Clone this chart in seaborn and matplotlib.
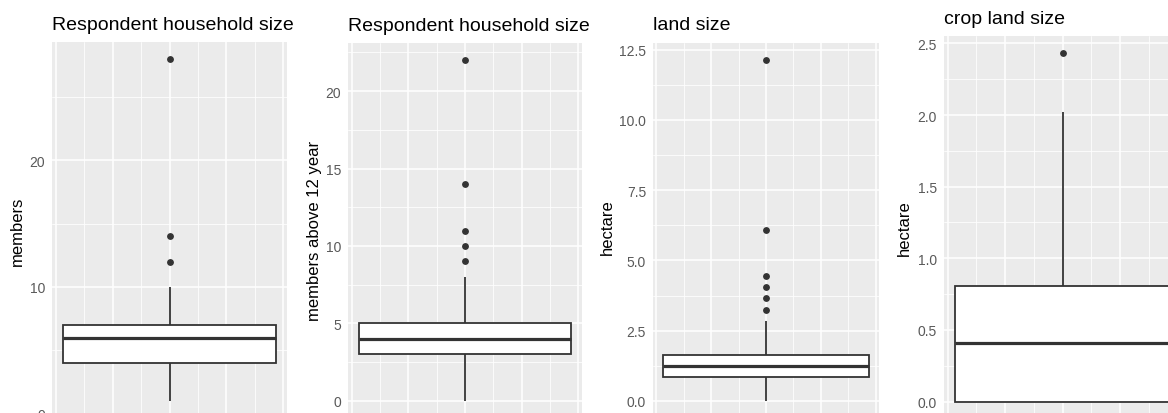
import numpy as np
import seaborn as sns
import matplotlib.pyplot as plt
from matplotlib.ticker import MultipleLocator, FormatStrFormatter

# values (quartiles, whisker ends, outliers)
members = [1, 2, 3, 4, 4, 4, 5, 5, 6, 6, 6, 6, 7, 7, 7, 7, 8, 10, 12, 14, 28]
members_12 = [0, 1, 2, 2, 3, 3, 3, 3, 4, 4, 4, 4, 4, 4, 5, 5, 5, 5, 5,
              8, 9, 10, 11, 14, 22]
land = [0.0, 0.3, 0.5, 0.6, 0.7, 0.8, 0.8, 0.85, 0.9, 1.0, 1.0, 1.1, 1.2, 1.2,
        1.25, 1.3, 1.4, 1.5, 1.5, 1.6, 1.6, 1.65, 2.84, 3.25, 3.65, 4.05,
        4.45, 6.1, 12.15]
crop_land = [0, 0, 0, 0, 0.1, 0.3, 0.41, 0.5, 0.7, 0.81, 1.5, 2.02, 2.43]

titles = ['Respondent household size', 'Respondent household size',
          'land size', 'crop land size']
ylabels = ['members', 'members above 12 year', 'hectare', 'hectare']
ytick_step = [10, 5, 2.5, 0.5]
ytick_fmt = ['%d', '%d', '%.1f', '%.1f']

# panel rectangles in pixels: left, right, top, bottom (bottom is cropped off)
W, H = 1168, 414
rects = [(52, 287, 43, 419), (348, 582, 44, 419),
         (653, 879, 43.5, 419), (944, 1181, 37, 420)]
ylab_x = [17, 315, 607, 904]
ylab_y = [231, 231, 227, 228]

sns.set_theme(style='darkgrid')
plt.rcParams['font.family'] = ['Liberation Sans', 'DejaVu Sans']

fig = plt.figure(figsize=(W / 100, H / 100), dpi=100)
fig.patch.set_facecolor('white')

for data, title, ylab, step, fmt, (l, r, t, b), lx, ly in zip(
        [members, members_12, land, crop_land], titles, ylabels, ytick_step,
        ytick_fmt, rects, ylab_x, ylab_y):
    ax = fig.add_axes([l / W, 1 - b / H, (r - l) / W, (b - t) / H])
    ax.set_facecolor('#EBEBEB')
    sns.boxplot(y=data, ax=ax, width=0.75, color='white', linecolor='#333333',
                linewidth=1.3, showcaps=False,
                medianprops=dict(linewidth=2.3, color='#333333'),
                flierprops=dict(marker='o', markersize=3.9,
                                markerfacecolor='#333333',
                                markeredgecolor='#333333'))
    lo, hi = min(data), max(data)
    pad = (hi - lo) * 0.05
    ax.set_ylim(lo - pad, hi + pad)
    ax.set_xlim(-0.4125, 0.4125)

    ax.xaxis.set_major_locator(MultipleLocator(0.2))
    ax.xaxis.set_minor_locator(MultipleLocator(0.1))
    ax.yaxis.set_major_locator(MultipleLocator(step))
    ax.yaxis.set_minor_locator(MultipleLocator(step / 2))
    ax.yaxis.set_major_formatter(FormatStrFormatter(fmt))
    ax.set_axisbelow(True)
    ax.grid(which='major', color='white', linewidth=1.1)
    ax.grid(which='minor', color='white', linewidth=0.55)
    ax.tick_params(axis='x', which='both', length=0, labelbottom=False)
    ax.tick_params(axis='y', which='both', length=0, pad=5,
                   labelsize=10, labelcolor='#595959')
    for s in ax.spines.values():
        s.set_visible(False)

    ax.set_title(title, loc='left', fontsize=14, color='black', pad=9.5)
    ax.set_xlabel('')
    ax.set_ylabel(ylab, fontsize=12, color='black')
    ax.yaxis.label.set_va('center')
    ax.yaxis.set_label_coords(lx / W, 1 - ly / H, transform=fig.transFigure)

fig.savefig('out.png', dpi=100)
